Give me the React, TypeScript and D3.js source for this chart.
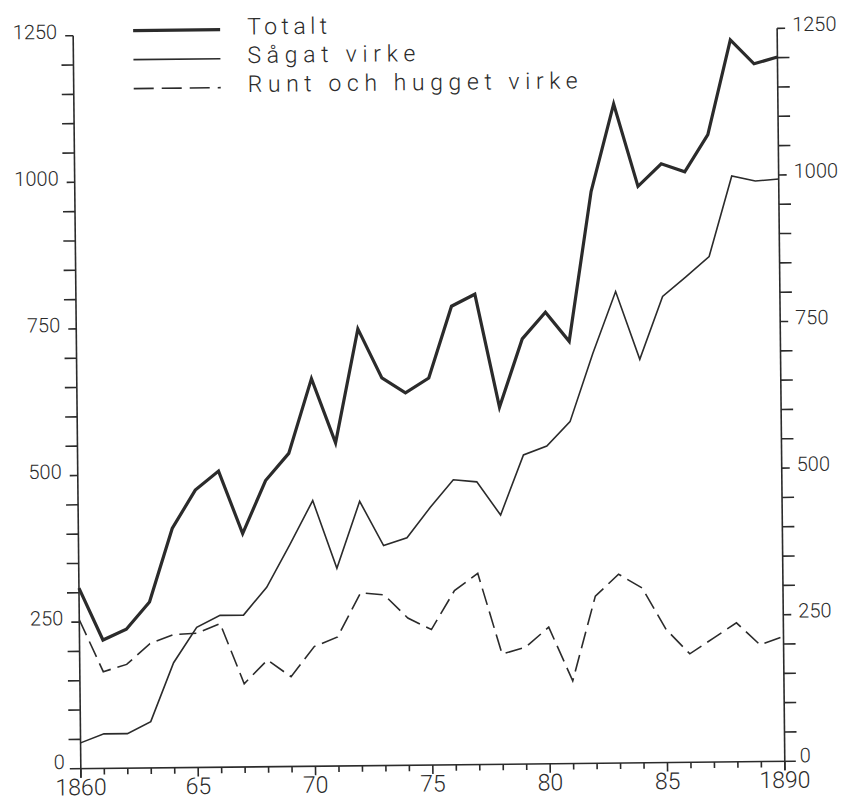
import React from "react";
import * as d3 from "d3";

const years = [1860,1861,1862,1863,1864,1865,1866,1867,1868,1869,1870,1871,1872,1873,1874,1875,1876,1877,1878,1879,1880,1881,1882,1883,1884,1885,1886,1887,1888,1889,1890];
const totalt = [308,219,237,283,408,473,505,398,488,534,661,551,745,661,635,660,782,802,609,725,770,720,975,1124,983,1021,1007,1070,1231,1190,1201];
const sagat = [44,59,59,79,179,239,259,259,306,378,453,337,451,375,388,439,486,482,425,527,542,583,699,804,688,795,828,862,999,990,993];
const runt = [254,165,177,212,227,229,245,142,182,153,204,220,295,291,251,231,297,326,188,199,233,141,285,322,298,227,185,211,237,199,213];

const yMajorTicks = [0,250,500,750,1000,1250];
const yTickLabels = ["0","250","500","750","1000","1250"];
const xMajorTicks = [1860,1865,1870,1875,1880,1885,1890];
const xTickLabels = ["1860","65","70","75","80","85","1890"];
const seriesNames = ["Totalt","Sågat virke","Runt och hugget virke"];

const W = 846, H = 801;
const INK = "#2b2b2b";
const FONT = "Roboto, 'Open Sans', 'DejaVu Sans', sans-serif";

export default function App() {
  const x = d3.scaleLinear().domain([1860, 1890]).range([77, 781]);
  const y = d3.scaleLinear().domain([0, 1250]).range([765, 32]);
  const line = (vals: number[]) =>
    d3.line<number>().x((_, i) => x(years[i])).y((d) => y(d))(vals) || "";

  const x0 = x(1860), x1 = x(1890), yb = y(0), yt = y(1250);
  const yMinor = d3.range(0, 1251, 50).filter((v) => v % 250 !== 0);
  const xMinor = years.filter((v) => v % 5 !== 0);

  const legend = [
    { name: seriesNames[0], w: 3.2, dash: undefined as string | undefined, ly: 27.5, ty: 32.5, tl: 80 },
    { name: seriesNames[1], w: 1.6, dash: undefined, ly: 56.5, ty: 61, tl: 168 },
    { name: seriesNames[2], w: 1.6, dash: "20 8", ly: 85.5, ty: 90, tl: 330 },
  ];

  return (
    <svg width={W} height={H} style={{ position: "absolute", left: 0, top: 0, background: "#fff" }}>
      <rect width={W} height={H} fill="#fff" />
      <g transform="rotate(-0.6 430 400)" fontFamily={FONT} fontWeight={300} fill={INK}>
        {/* axes */}
        <g stroke={INK} strokeWidth={1.6} fill="none">
          <line x1={x0} y1={yt} x2={x0} y2={yb + 9} />
          <line x1={x1} y1={yt} x2={x1} y2={yb + 9} />
          <line x1={x0 - 11} y1={yb} x2={x1 + 11} y2={yb} />
          {yMajorTicks.filter((v) => v > 0).map((v) => (
            <g key={"ym" + v}>
              <line x1={x0 - 8} x2={x0} y1={y(v)} y2={y(v)} />
              <line x1={x1} x2={x1 + 8} y1={y(v)} y2={y(v)} />
            </g>
          ))}
          {yMinor.map((v) => (
            <g key={"yn" + v}>
              <line x1={x0 - 12} x2={x0} y1={y(v)} y2={y(v)} />
              <line x1={x1} x2={x1 + 12} y1={y(v)} y2={y(v)} />
            </g>
          ))}
          {xMajorTicks.map((v) => (
            <line key={"xm" + v} x1={x(v)} x2={x(v)} y1={yb} y2={yb + 9} />
          ))}
          {xMinor.map((v) => (
            <line key={"xn" + v} x1={x(v)} x2={x(v)} y1={yb} y2={yb + 6} />
          ))}
        </g>
        {/* tick labels */}
        <g fontSize={20} stroke="none">
          {yMajorTicks.map((v, i) => (
            <g key={"yl" + v}>
              <text x={x0 - 16} y={y(v) + (v === 0 ? 0 : 3)} textAnchor="end">{yTickLabels[i]}</text>
              <text x={x1 + 15} y={y(v) + (v === 0 ? 1 : 3)} textAnchor="start">{yTickLabels[i]}</text>
            </g>
          ))}
        </g>
        <g fontSize={23} stroke="none">
          {xMajorTicks.map((v, i) => (
            <text key={"xl" + v} x={x(v)} y={yb + 26.5} textAnchor="middle">{xTickLabels[i]}</text>
          ))}
        </g>
        {/* series */}
        <g fill="none" stroke={INK} strokeLinejoin="miter" strokeMiterlimit={6}>
          <path d={line(runt)} strokeWidth={1.6} strokeDasharray="17 7" />
          <path d={line(sagat)} strokeWidth={1.6} />
          <path d={line(totalt)} strokeWidth={3.2} />
        </g>
        {/* legend */}
        {legend.map((l) => (
          <g key={l.name}>
            <line x1={137} x2={224} y1={l.ly} y2={l.ly} stroke={INK} strokeWidth={l.w} strokeDasharray={l.dash} />
            <text x={251} y={l.ty} fontSize={23} textLength={l.tl} lengthAdjust="spacing">{l.name}</text>
          </g>
        ))}
      </g>
    </svg>
  );
}
